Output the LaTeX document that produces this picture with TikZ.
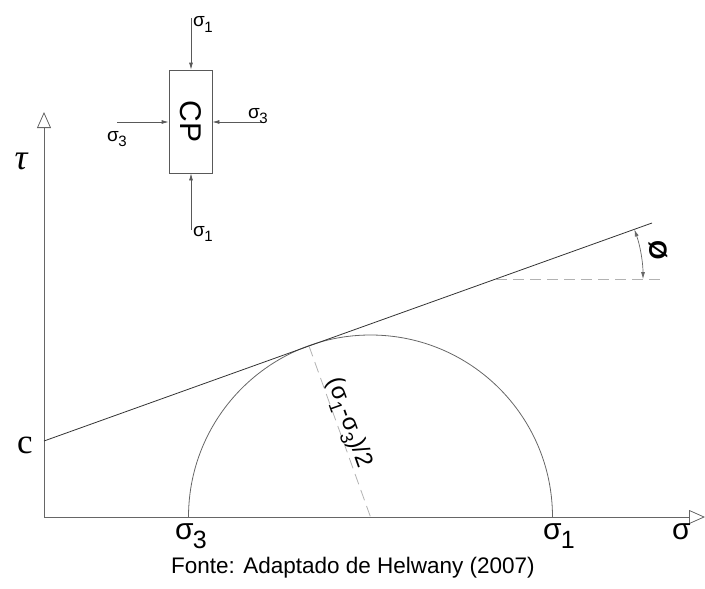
\documentclass[tikz,border=0pt]{standalone}
\usepackage{fontspec}
\setmainfont{Liberation Sans}
\newfontfamily\serifc{Liberation Serif}
\usetikzlibrary{arrows.meta}
\newcommand{\sgm}[3]{{\fontsize{#1pt}{#1pt}\selectfont σ\kern-0.02em\raisebox{-0.3em}{\fontsize{#2pt}{#2pt}\selectfont #3}}}
\newcommand{\subd}[2]{\raisebox{-0.3em}{\fontsize{#1pt}{#1pt}\selectfont #2}}
\tikzset{
  axis/.style={draw=black!60, line width=0.8pt, -{Triangle[open, length=16pt, width=14pt, line width=0.8pt]}},
  frame/.style={draw=black!65, line width=0.7pt},
  force/.style={draw=black!65, line width=0.7pt, -{Latex[length=7pt, width=4pt]}},
  curve/.style={draw=black!60, line width=0.8pt},
  failure/.style={draw=black!80, line width=0.8pt},
  guide/.style={draw=black!30, line width=0.8pt, dash pattern=on 11pt off 6pt},
  lbl/.style={inner sep=0pt, outer sep=0pt},
}
\begin{document}
\begin{tikzpicture}[x=1pt, y=-1pt]
\useasboundingbox (0,0) rectangle (705,589);
% coordinates
\coordinate (O) at (44,517);
\coordinate (Ytip) at (44,112);
\coordinate (Xtip) at (705,517);
\coordinate (C) at (44,441);
\coordinate (Lend) at (652,223);
\coordinate (T) at (309,346);
\coordinate (M) at (370.5,517);
\coordinate (S1) at (552.5,517);
\coordinate (S3) at (188.5,517);
\coordinate (P) at (496,279);
\coordinate (Pend) at (662,279);
\coordinate (A1) at (634.4,229.5);
% axes
\draw[axis] (O) -- (Ytip);
\draw[axis] (O) -- (Xtip);
% Mohr circle
\draw[curve] (S1) arc[start angle=0, end angle=180, radius=182pt];
% failure envelope
\draw[failure] (C) -- (Lend);
% dashed guides
\draw[guide] (T) -- (M);
\draw[guide] (P) -- (Pend);
% angle arc
\draw[curve, line width=0.7pt, {Latex[length=7pt,width=4pt]}-{Latex[length=7pt,width=4pt]}] (A1) arc[start angle=19.7, end angle=0, radius=147pt];
\node[lbl, rotate=-90] (phi) at (658,250) {\fontsize{25pt}{25pt}\selectfont\bfseries Ø};
% labels
\node[lbl] (tau) at (21,161) {\fontsize{36pt}{36pt}\selectfont\serifc\itshape τ};
\node[lbl] (c) at (25,445) {\fontsize{35pt}{35pt}\selectfont\serifc c};
\node[lbl, anchor=base west] (s3) at (175,539) {\sgm{30}{25}{3}};
\node[lbl, anchor=base west] (s1) at (543,539) {\sgm{30}{25}{1}};
\node[lbl, anchor=base west] (sg) at (672,539) {\fontsize{30pt}{30pt}\selectfont σ};
\node[lbl, rotate=-70.4] (rad) at (348,423) {\fontsize{24pt}{24pt}\selectfont (σ\subd{18}{1}-σ\subd{18}{3})/2};
% specimen
\node[frame, minimum width=43pt, minimum height=103pt, inner sep=0pt] (box) at (190.5,121.5) {\rotatebox{-90}{\fontsize{30pt}{30pt}\selectfont CP}};
\coordinate (ft) at (191,18);
\coordinate (fb) at (191,230);
\coordinate (fl) at (117,122);
\coordinate (fr) at (263,122);
\draw[force] (ft) -- (box.north -| ft);
\draw[force] (fb) -- (box.south -| fb);
\draw[force] (fl) -- (box.west |- fl);
\draw[force] (fr) -- (box.east |- fr);
\node[lbl, anchor=base west] (s1t) at (193,27) {\sgm{19}{15}{1}};
\node[lbl, anchor=base west] (s1b) at (193,236) {\sgm{19}{15}{1}};
\node[lbl, anchor=base west] (s3l) at (107,141) {\sgm{19}{15}{3}};
\node[lbl, anchor=base west] (s3r) at (248,118) {\sgm{19}{15}{3}};
% caption
\node[lbl] (cap) at (353,568) {\fontsize{22.5pt}{22.5pt}\selectfont Fonte: Adaptado de Helwany (2007)};
\end{tikzpicture}
\end{document}
